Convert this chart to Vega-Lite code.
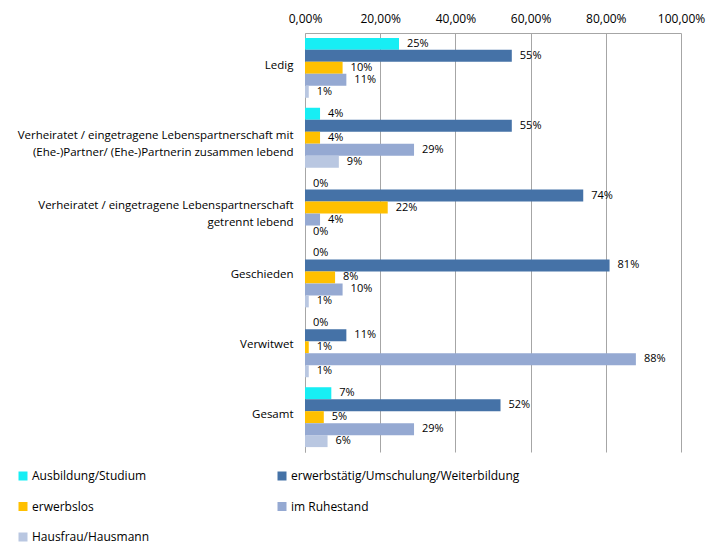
{
  "$schema": "https://vega.github.io/schema/vega-lite/v6.json",
  "width": 376,
  "height": 419,
  "autosize": {"type": "none"},
  "padding": {"left": 305, "top": 33, "right": 30, "bottom": 96},
  "config": {"view": {"stroke": null}, "font": "Open Sans", "background": "#ffffff"},
  "data": {"values": [
    {"Familienstand": "Ledig", "Status": "Ausbildung/Studium", "Anteil": 0.25},
    {"Familienstand": "Ledig", "Status": "erwerbstätig/Umschulung/Weiterbildung", "Anteil": 0.55},
    {"Familienstand": "Ledig", "Status": "erwerbslos", "Anteil": 0.10},
    {"Familienstand": "Ledig", "Status": "im Ruhestand", "Anteil": 0.11},
    {"Familienstand": "Ledig", "Status": "Hausfrau/Hausmann", "Anteil": 0.01},
    {"Familienstand": "Verheiratet / eingetragene Lebenspartnerschaft mit\n(Ehe-)Partner/ (Ehe-)Partnerin zusammen lebend", "Status": "Ausbildung/Studium", "Anteil": 0.04},
    {"Familienstand": "Verheiratet / eingetragene Lebenspartnerschaft mit\n(Ehe-)Partner/ (Ehe-)Partnerin zusammen lebend", "Status": "erwerbstätig/Umschulung/Weiterbildung", "Anteil": 0.55},
    {"Familienstand": "Verheiratet / eingetragene Lebenspartnerschaft mit\n(Ehe-)Partner/ (Ehe-)Partnerin zusammen lebend", "Status": "erwerbslos", "Anteil": 0.04},
    {"Familienstand": "Verheiratet / eingetragene Lebenspartnerschaft mit\n(Ehe-)Partner/ (Ehe-)Partnerin zusammen lebend", "Status": "im Ruhestand", "Anteil": 0.29},
    {"Familienstand": "Verheiratet / eingetragene Lebenspartnerschaft mit\n(Ehe-)Partner/ (Ehe-)Partnerin zusammen lebend", "Status": "Hausfrau/Hausmann", "Anteil": 0.09},
    {"Familienstand": "Verheiratet / eingetragene Lebenspartnerschaft\ngetrennt lebend", "Status": "Ausbildung/Studium", "Anteil": 0.0},
    {"Familienstand": "Verheiratet / eingetragene Lebenspartnerschaft\ngetrennt lebend", "Status": "erwerbstätig/Umschulung/Weiterbildung", "Anteil": 0.74},
    {"Familienstand": "Verheiratet / eingetragene Lebenspartnerschaft\ngetrennt lebend", "Status": "erwerbslos", "Anteil": 0.22},
    {"Familienstand": "Verheiratet / eingetragene Lebenspartnerschaft\ngetrennt lebend", "Status": "im Ruhestand", "Anteil": 0.04},
    {"Familienstand": "Verheiratet / eingetragene Lebenspartnerschaft\ngetrennt lebend", "Status": "Hausfrau/Hausmann", "Anteil": 0.0},
    {"Familienstand": "Geschieden", "Status": "Ausbildung/Studium", "Anteil": 0.0},
    {"Familienstand": "Geschieden", "Status": "erwerbstätig/Umschulung/Weiterbildung", "Anteil": 0.81},
    {"Familienstand": "Geschieden", "Status": "erwerbslos", "Anteil": 0.08},
    {"Familienstand": "Geschieden", "Status": "im Ruhestand", "Anteil": 0.10},
    {"Familienstand": "Geschieden", "Status": "Hausfrau/Hausmann", "Anteil": 0.01},
    {"Familienstand": "Verwitwet", "Status": "Ausbildung/Studium", "Anteil": 0.0},
    {"Familienstand": "Verwitwet", "Status": "erwerbstätig/Umschulung/Weiterbildung", "Anteil": 0.11},
    {"Familienstand": "Verwitwet", "Status": "erwerbslos", "Anteil": 0.01},
    {"Familienstand": "Verwitwet", "Status": "im Ruhestand", "Anteil": 0.88},
    {"Familienstand": "Verwitwet", "Status": "Hausfrau/Hausmann", "Anteil": 0.01},
    {"Familienstand": "Gesamt", "Status": "Ausbildung/Studium", "Anteil": 0.07},
    {"Familienstand": "Gesamt", "Status": "erwerbstätig/Umschulung/Weiterbildung", "Anteil": 0.52},
    {"Familienstand": "Gesamt", "Status": "erwerbslos", "Anteil": 0.05},
    {"Familienstand": "Gesamt", "Status": "im Ruhestand", "Anteil": 0.29},
    {"Familienstand": "Gesamt", "Status": "Hausfrau/Hausmann", "Anteil": 0.06}
  ]},
  "encoding": {
    "y": {
      "field": "Familienstand", "type": "nominal", "sort": null,
      "scale": {"paddingInner": 0.143, "paddingOuter": 0.07},
      "axis": {
        "title": null, "ticks": false, "domain": true, "domainColor": "#A6A6A6", "domainWidth": 1,
        "labelExpr": "split(datum.label, '\\n')",
        "labelFontSize": 11.5, "labelColor": "#000000", "labelPadding": 12, "labelLimit": 320,
        "labelLineHeight": 17, "labelOffset": -2
      }
    },
    "yOffset": {
      "field": "Status", "type": "nominal",
      "sort": ["Ausbildung/Studium", "erwerbstätig/Umschulung/Weiterbildung", "erwerbslos", "im Ruhestand", "Hausfrau/Hausmann"]
    },
    "x": {
      "field": "Anteil", "type": "quantitative",
      "scale": {"domain": [0, 1], "nice": false},
      "axis": {
        "orient": "top", "title": null, "values": [0, 0.2, 0.4, 0.6, 0.8, 1],
        "labelExpr": "replace(format(datum.value, '.2%'), '.', ',')",
        "labelFlush": false, "labelOverlap": false, "labelBound": false,
        "grid": true, "gridColor": "#A6A6A6", "gridWidth": 1,
        "ticks": false, "domain": true, "domainColor": "#A6A6A6",
        "labelFontSize": 12, "labelColor": "#000000", "labelPadding": 8
      }
    }
  },
  "layer": [
    {
      "mark": {"type": "bar"},
      "encoding": {
        "color": {
          "field": "Status", "type": "nominal",
          "scale": {
            "domain": ["Ausbildung/Studium", "erwerbstätig/Umschulung/Weiterbildung", "erwerbslos", "im Ruhestand", "Hausfrau/Hausmann"],
            "range": ["#17EEF4", "#4572A7", "#FFC000", "#95A9D2", "#B9C7E1"]
          },
          "legend": {
            "title": null, "orient": "none", "legendX": -288, "legendY": 437,
            "direction": "horizontal", "columns": 2, "columnPadding": 126, "rowPadding": 18.5,
            "symbolType": "square", "symbolSize": 81, "symbolStrokeWidth": 0,
            "labelFontSize": 12, "labelColor": "#000000", "labelOffset": 3, "labelLimit": 300
          }
        }
      }
    },
    {
      "mark": {"type": "text", "align": "left", "baseline": "middle", "dx": 8, "fontSize": 11, "color": "#000000"},
      "encoding": {
        "text": {"field": "Anteil", "type": "quantitative", "format": ".0%"}
      }
    }
  ]
}
